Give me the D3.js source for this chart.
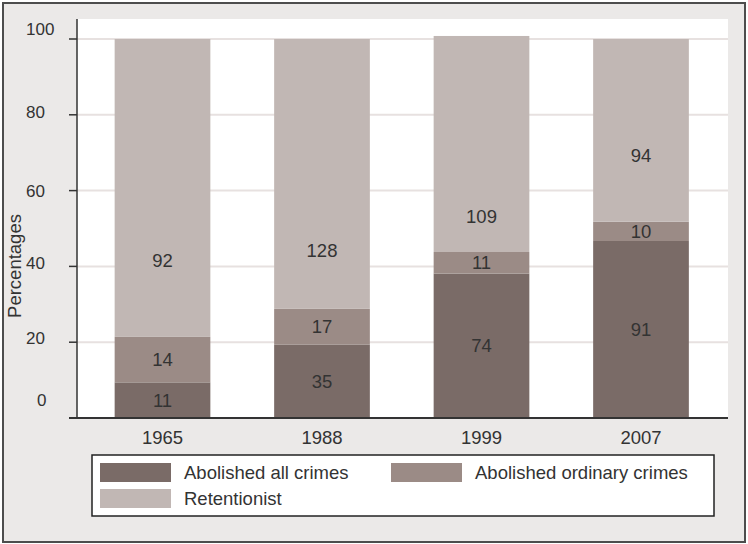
<!DOCTYPE html>
<html>
<head>
<meta charset="utf-8">
<script src="https://cdn.jsdelivr.net/npm/d3@7"></script>
<style>
  html, body { margin:0; padding:0; background:#fff; }
  svg { display:block; font-family:"Liberation Sans", Arial, sans-serif; }
  text { fill:#333; }
</style>
</head>
<body>
<svg id="chart" width="748" height="544"></svg>
<script>
// data
const years = ['1965', '1988', '1999', '2007'];
const seriesNames = ['Abolished all crimes', 'Abolished ordinary crimes', 'Retentionist'];
// bar segment heights, percent of countries
const pctAll      = [9.4, 19.4, 38.1, 46.7];
const pctOrdinary = [12.0, 9.4, 5.7, 5.1];
const pctRetain   = [78.6, 71.2, 57.0, 48.2];
// numbers printed inside the segments (country counts)
const nAll      = [11, 35, 74, 91];
const nOrdinary = [14, 17, 11, 10];
const nRetain   = [92, 128, 109, 94];
const yTicks = [0, 20, 40, 60, 80, 100];

const colors = ['#7a6b67', '#9b8b86', '#c1b7b4'];
const FS = 18.5;

const svg = d3.select('#chart');
const W = 748, H = 544;

// frame + grey page
svg.append('rect').attr('x', 3).attr('y', 3).attr('width', W - 6).attr('height', H - 5)
  .attr('fill', '#ebe9e8').attr('stroke', '#4d4d4d').attr('stroke-width', 2);

const plot = { l: 77, r: 728, t: 19, b: 418 };

const x = d3.scaleBand().domain(years).range([82.75, 720.75])
  .paddingInner(0.4).paddingOuter(0.2);
const y = d3.scaleLinear().domain([0, 100]).range([plot.b, 39]);

svg.append('rect').attr('x', plot.l).attr('y', plot.t)
  .attr('width', plot.r - plot.l).attr('height', plot.b - plot.t).attr('fill', '#fff');

// gridlines
svg.append('g').selectAll('line').data(yTicks.filter(d => d > 0)).join('line')
  .attr('x1', plot.l).attr('x2', plot.r)
  .attr('y1', d => y(d)).attr('y2', d => y(d))
  .attr('stroke', '#e7e1e0').attr('stroke-width', 2);

// stacked bars
const rows = years.map((yr, i) => ({ year: yr, all: pctAll[i], ord: pctOrdinary[i], ret: pctRetain[i] }));
const keys = ['all', 'ord', 'ret'];
const stacked = d3.stack().keys(keys)(rows);

svg.append('g').selectAll('g').data(stacked).join('g')
  .attr('fill', (d, i) => colors[i])
  .selectAll('rect').data(d => d).join('rect')
  .attr('x', d => x(d.data.year))
  .attr('width', x.bandwidth())
  .attr('y', d => y(d[1]))
  .attr('height', d => y(d[0]) - y(d[1]));

// segment labels: bottom two centred, retentionist at hand-read spots
const counts = [nAll, nOrdinary, nRetain];
const retLabelAt = [41.7, 44.3, 53.3, 69.4];
const labels = [];
stacked.forEach((s, si) => {
  s.forEach((d, i) => {
    const v = si === 2 ? retLabelAt[i] : (d[0] + d[1]) / 2;
    labels.push({ x: x(d.data.year) + x.bandwidth() / 2, y: y(v), t: counts[si][i] });
  });
});
svg.append('g').selectAll('text').data(labels).join('text')
  .attr('x', d => d.x).attr('y', d => d.y)
  .attr('dy', '0.36em').attr('text-anchor', 'middle')
  .attr('font-size', FS).text(d => d.t);

// y axis
const yAxis = svg.append('g');
yAxis.append('line').attr('x1', plot.l).attr('x2', plot.l)
  .attr('y1', plot.t).attr('y2', plot.b).attr('stroke', '#333').attr('stroke-width', 1.5);
yAxis.selectAll('.tick').data(yTicks).join('line')
  .attr('x1', 69).attr('x2', plot.l)
  .attr('y1', d => y(d)).attr('y2', d => y(d))
  .attr('stroke', '#333').attr('stroke-width', 1.5);
// tick labels sit a little above their ticks in the original
const tickNudge = { 0: [11, -18], 20: [0, -4], 40: [0, -4], 60: [0, 0], 80: [0, -3], 100: [0, -10] };
yAxis.selectAll('text').data(yTicks).join('text')
  .attr('x', d => 26 + tickNudge[d][0])
  .attr('y', d => y(d) + tickNudge[d][1])
  .attr('dy', '0.36em').attr('font-size', 17).text(d => d);

svg.append('text')
  .attr('transform', 'translate(21,266) rotate(-90)')
  .attr('text-anchor', 'middle').attr('font-size', FS).text('Percentages');

// x axis
svg.append('line').attr('x1', 69).attr('x2', plot.r)
  .attr('y1', plot.b).attr('y2', plot.b).attr('stroke', '#333').attr('stroke-width', 2);
svg.append('g').selectAll('text').data(years).join('text')
  .attr('x', d => x(d) + x.bandwidth() / 2).attr('y', 437)
  .attr('dy', '0.36em').attr('text-anchor', 'middle').attr('font-size', FS).text(d => d);

// legend
const lg = svg.append('g');
lg.append('rect').attr('x', 92).attr('y', 455).attr('width', 622).attr('height', 61)
  .attr('fill', '#fff').attr('stroke', '#222').attr('stroke-width', 1.5);
const legendPos = [[100, 463], [391, 463], [100, 489]];
const item = lg.selectAll('g').data(seriesNames).join('g')
  .attr('transform', (d, i) => `translate(${legendPos[i][0]},${legendPos[i][1]})`);
item.append('rect').attr('width', 71).attr('height', 19).attr('fill', (d, i) => colors[i]);
item.append('text').attr('x', 84).attr('y', 9.5).attr('dy', '0.36em')
  .attr('font-size', FS).text(d => d);
</script>
</body>
</html>
